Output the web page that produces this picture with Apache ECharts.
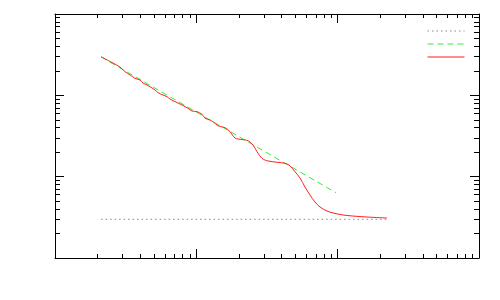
<!DOCTYPE html>
<html>
<head>
<meta charset="utf-8">
<script src="https://cdn.jsdelivr.net/npm/echarts@6/dist/echarts.min.js"></script>
<style>html,body{margin:0;padding:0;background:#fff}#c{width:500px;height:300px}</style>
</head>
<body>
<div id="c"></div>
<script>
// Data (log-log)
var measuredX = [2.12,2.45,2.88,3.13,3.40,3.68,3.99,4.19,4.48,4.86,5.10,5.36,5.81,6.20,6.51,6.84,7.42,8.05,8.73,9.32,10.11,10.97,11.52,12.50,13.12,14.23,15.95,17.31,18.77,21.04,23.21,25.17,26.87,29.15,32.14,37.83,42.41,46.00,49.90,54.14,58.73,63.72,69.12,74.99,84.06,92.69,109.1,128.4,161.3,223.4];
var measuredY = [298.6,260.6,223.0,195.3,177.8,162.0,154.3,141.8,134.0,123.1,116.3,107.8,100.9,96.2,90.1,85.9,80.5,75.0,69.3,64.2,62.9,58.5,52.2,49.7,47.4,42.3,40.0,35.7,29.9,28.6,27.7,24.5,20.3,16.8,15.6,15.0,14.6,13.6,11.5,9.63,7.46,5.95,4.88,4.24,3.78,3.58,3.38,3.28,3.19,3.10];
var fitX = [2.12, 97.3];
var fitY = [296, 6.35];
var floorX = [2.12, 223];
var floorY = [2.99, 2.99];
var seriesNames = ['floor', 'fit', 'measured'];
var xMajorTicks = [1, 10, 100, 1000];
var xMinorTicks = [2,3,4,5,6,7,8,9,20,30,40,50,60,70,80,90,200,300,400,500,600,700,800,900];
var yMajorTicks = [1, 10, 100, 1000];
var yMinorTicks = [2,3,4,5,6,7,8,9,20,30,40,50,60,70,80,90,200,300,400,500,600,700,800,900];

var GRAY = '#888888', GREEN = '#33ee33', RED = '#ff2020';
var DOT = [1.5, 3], DASH = [6, 4];

function pairs(xs, ys){ return xs.map(function(x,i){ return [x, ys[i]]; }); }

function mkAxis(pos, ticks, len, showLine){
  return {
    type: 'log', logBase: 10, min: 1, max: 1000, position: pos,
    axisLine: {show: showLine, onZero: false, lineStyle: {color: '#000', width: 1}},
    axisTick: {show: true, inside: true, length: len, customValues: ticks, lineStyle: {color: '#000', width: 1}},
    axisLabel: {show: false},
    splitLine: {show: false},
    minorTick: {show: false}
  };
}

var chart = echarts.init(document.getElementById('c'), null, {renderer: 'canvas'});
chart.setOption({
  animation: false,
  backgroundColor: '#fff',
  grid: {left: 55, right: 21, top: 14, bottom: 42, containLabel: false},
  xAxis: [
    mkAxis('bottom', xMajorTicks, 9, true),
    mkAxis('bottom', xMinorTicks, 4, false),
    mkAxis('top', xMajorTicks, 9, true),
    mkAxis('top', xMinorTicks, 4, false)
  ],
  yAxis: [
    mkAxis('left', yMajorTicks, 9, true),
    mkAxis('left', yMinorTicks, 5, false),
    mkAxis('right', yMajorTicks, 9, true),
    mkAxis('right', yMinorTicks, 5, false)
  ],
  legend: {
    orient: 'vertical', right: 30, top: 21, itemWidth: 37, itemHeight: 10, itemGap: 4,
    formatter: function(){ return ''; },
    textStyle: {fontSize: 10},
    itemStyle: {opacity: 0},
    lineStyle: {width: 1},
    data: [
      {name: seriesNames[0], lineStyle: {color: GRAY, width: 1, type: DOT}},
      {name: seriesNames[1], lineStyle: {color: GREEN, width: 1, type: DASH}},
      {name: seriesNames[2], lineStyle: {color: RED, width: 1, type: 'solid'}}
    ]
  },
  series: [
    {name: seriesNames[0], type: 'line', data: pairs(floorX, floorY), symbol: 'none',
     lineStyle: {color: GRAY, width: 1, type: DOT}, itemStyle: {color: GRAY}},
    {name: seriesNames[1], type: 'line', data: pairs(fitX, fitY), symbol: 'none',
     lineStyle: {color: GREEN, width: 1, type: DASH}, itemStyle: {color: GREEN}},
    {name: seriesNames[2], type: 'line', data: pairs(measuredX, measuredY), symbol: 'none', smooth: 0.35,
     lineStyle: {color: RED, width: 1}, itemStyle: {color: RED}}
  ]
});
</script>
</body>
</html>
